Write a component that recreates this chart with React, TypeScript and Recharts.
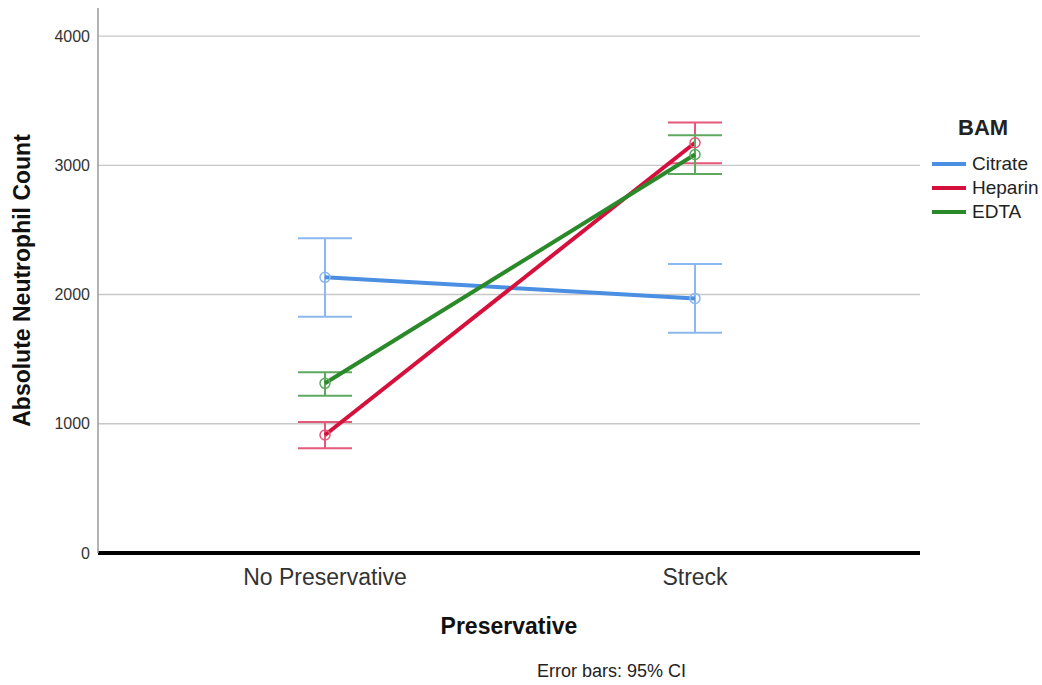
import React from 'react';
import { LineChart, Line, XAxis, YAxis, CartesianGrid, ErrorBar, Label } from 'recharts';

const categories = ['No Preservative', 'Streck'];

const citrateMean = [2133, 1970];
const citrateLow = [1828, 1704];
const citrateHigh = [2435, 2236];

const heparinMean = [913, 3174];
const heparinLow = [810, 3015];
const heparinHigh = [1014, 3332];

const edtaMean = [1313, 3083];
const edtaLow = [1217, 2932];
const edtaHigh = [1398, 3232];

const yTicks = [0, 1000, 2000, 3000, 4000];
const gridValues = [1000, 2000, 3000, 4000];

const series = [
    { key: 'Citrate', color: '#4a8fe2', light: '#8bb8ee' },
    { key: 'Heparin', color: '#d6103d', light: '#e4587a' },
    { key: 'EDTA', color: '#2a8a2a', light: '#5fa85f' },
];

const data = categories.map((name, i) => ({
    name,
    Citrate: citrateMean[i],
    CitrateErr: [citrateMean[i] - citrateLow[i], citrateHigh[i] - citrateMean[i]],
    Heparin: heparinMean[i],
    HeparinErr: [heparinMean[i] - heparinLow[i], heparinHigh[i] - heparinMean[i]],
    EDTA: edtaMean[i],
    EDTAErr: [edtaMean[i] - edtaLow[i], edtaHigh[i] - edtaMean[i]],
}));

const font = '"Liberation Sans", Arial, sans-serif';

// legend block on the right: title plus one swatch per series
const BamLegend = () => (
    <div style={{ position: 'absolute', left: 932, top: 115, fontFamily: font, color: '#222' }}>
        <div style={{ fontWeight: 'bold', fontSize: 22, marginLeft: 26, marginBottom: 11, lineHeight: '26px' }}>BAM</div>
        {series.map((s) => (
            <div key={s.key} style={{ display: 'flex', alignItems: 'center', height: 24 }}>
                <div style={{ width: 34, height: 4, background: s.color, marginRight: 6 }} />
                <span style={{ fontSize: 19 }}>{s.key}</span>
            </div>
        ))}
    </div>
);

export default function App() {
    return (
        <div style={{ position: 'absolute', left: 0, top: 0, width: 1042, height: 685, background: '#fff' }}>
            <LineChart
                width={1042}
                height={685}
                data={data}
                margin={{ top: 8, right: 122, bottom: 72, left: 38 }}
            >
                <CartesianGrid vertical={false} horizontalValues={gridValues} stroke="#c8c8c8" strokeWidth={1.3} />
                <XAxis
                    dataKey="name"
                    scale="point"
                    padding={{ left: 227, right: 225 }}
                    axisLine={{ stroke: '#000', strokeWidth: 4 }}
                    tickLine={false}
                    tickSize={0}
                    tickMargin={16}
                    height={60}
                    tick={{ fontFamily: font, fontSize: 23, fill: '#333' }}
                >
                    <Label
                        value="Preservative"
                        position="bottom"
                        offset={5}
                        style={{ fontFamily: font, fontSize: 23, fontWeight: 'bold', fill: '#111' }}
                    />
                </XAxis>
                <YAxis
                    domain={[0, 4217]}
                    ticks={yTicks}
                    allowDataOverflow
                    width={60}
                    axisLine={{ stroke: '#9a9a9a', strokeWidth: 1.5 }}
                    tickLine={false}
                    tickSize={0}
                    tickMargin={8}
                    tick={{ fontFamily: font, fontSize: 16, fill: '#333' }}
                >
                    <Label
                        value="Absolute Neutrophil Count"
                        angle={-90}
                        position="insideLeft"
                        offset={-16}
                        style={{ textAnchor: 'middle', fontFamily: font, fontSize: 23, fontWeight: 'bold', fill: '#111' }}
                    />
                </YAxis>
                {series.map((s) => (
                    <Line
                        key={s.key}
                        dataKey={s.key}
                        stroke={s.color}
                        strokeWidth={4}
                        isAnimationActive={false}
                        dot={{ r: 5, fill: 'none', stroke: s.light, strokeWidth: 1.5 }}
                        activeDot={false}
                    >
                        <ErrorBar dataKey={`${s.key}Err`} width={27} stroke={s.light} strokeWidth={2} direction="y" />
                    </Line>
                ))}
            </LineChart>
            <BamLegend />
            <div
                style={{
                    position: 'absolute',
                    left: 537,
                    top: 661,
                    fontFamily: font,
                    fontSize: 18,
                    color: '#222',
                }}
            >
                Error bars: 95% CI
            </div>
        </div>
    );
}
